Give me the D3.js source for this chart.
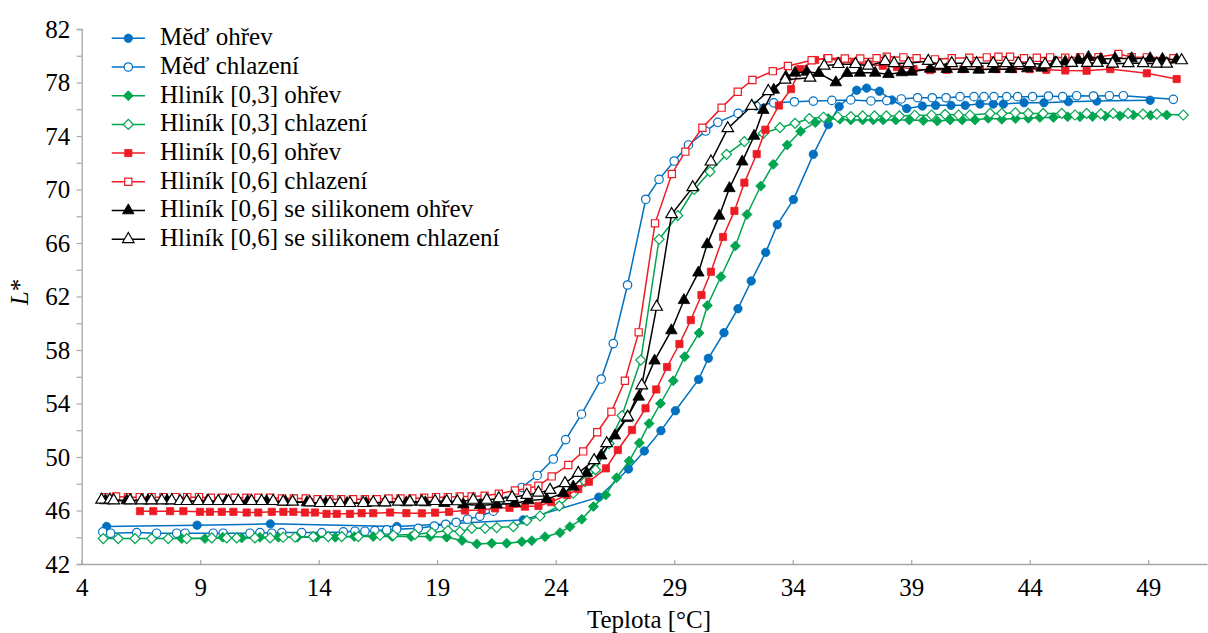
<!DOCTYPE html>
<html>
<head>
<meta charset="utf-8">
<script src="https://cdn.jsdelivr.net/npm/d3@7"></script>
<style>
  body { margin: 0; background: #fff; }
  svg { display: block; }
  text { font-family: "Liberation Serif", "Times New Roman", serif; fill: #000; }
</style>
</head>
<body>
<svg id="chart" width="1208" height="633"></svg>
<script>
// Temperature [°C] vs. lightness L* for each sample, heating (ohřev) and cooling (chlazení)
const medOhrev = [[5.05,44.8],[8.87,44.9],[11.96,45.0],[17.3,44.8],[22.63,45.3],[25.82,47.0],[27.07,49.1],[27.74,50.45],[28.44,51.97],[29.05,53.46],[30.03,55.8],[30.44,57.38],[31.1,59.29],[31.69,61.09],[32.25,63.16],[32.86,65.3],[33.35,67.37],[34.03,69.25],[34.87,72.63],[35.5,74.85],[35.96,76.2],[36.7,77.42],[37.12,77.58],[37.66,77.35],[38.18,76.69],[38.81,76.05],[39.47,76.24],[40.03,76.29],[40.68,76.29],[41.28,76.29],[41.9,76.39],[42.46,76.39],[42.89,76.39],[43.76,76.49],[44.6,76.49],[45.63,76.57],[46.83,76.62],[49.08,76.67]];

const medChlazeni = [[4.89,44.4],[5.22,44.3],[6.32,44.35],[7.16,44.3],[8.01,44.3],[8.36,44.3],[9.55,44.3],[9.97,44.3],[11.1,44.3],[11.52,44.35],[12.02,44.3],[12.44,44.35],[13.28,44.35],[14.13,44.35],[15.04,44.4],[15.53,44.45],[15.95,44.45],[16.37,44.5],[16.87,44.55],[17.29,44.6],[18.2,44.67],[18.88,44.84],[19.36,44.97],[19.8,45.12],[20.28,45.35],[20.8,45.57],[21.37,45.95],[21.95,46.75],[22.57,47.72],[23.22,48.62],[23.9,49.85],[24.42,51.3],[25.09,53.2],[25.92,55.83],[26.43,58.48],[27.03,62.86],[27.8,69.27],[28.36,70.76],[29.0,72.13],[29.6,73.33],[30.33,74.37],[30.84,75.02],[31.7,75.69],[32.45,76.25],[33.2,76.48],[34.07,76.56],[34.87,76.61],[35.65,76.66],[36.45,76.7],[37.3,76.62],[37.97,76.65],[38.58,76.77],[39.27,76.86],[39.89,76.86],[40.47,76.86],[41.06,76.94],[41.65,76.94],[42.07,76.94],[42.49,76.94],[43.03,76.94],[43.49,76.94],[44.12,76.94],[44.79,76.99],[45.39,76.94],[45.98,77.01],[46.69,76.99],[47.36,77.01],[47.95,77.01],[50.06,76.74]];

const hlinik03Ohrev = [[8.22,43.9],[9.2,43.9],[9.95,44.0],[10.75,43.95],[11.52,44.0],[12.3,44.0],[13.1,44.0],[13.9,44.0],[14.7,44.0],[15.5,44.05],[16.3,44.05],[17.1,44.05],[17.9,44.05],[18.7,44.05],[19.4,44.0],[20.05,43.75],[20.67,43.5],[21.3,43.55],[21.93,43.55],[22.57,43.67],[22.99,43.74],[23.55,44.04],[24.18,44.34],[24.6,44.79],[25.1,45.34],[25.59,46.29],[26.11,47.16],[26.57,48.45],[27.1,49.7],[27.53,51.05],[27.94,52.5],[28.42,54.0],[28.96,55.7],[29.44,57.5],[30.05,59.27],[30.4,61.33],[30.97,63.48],[31.58,65.78],[32.07,68.13],[32.65,70.26],[33.18,71.88],[33.77,73.33],[34.33,74.35],[34.95,75.0],[35.5,75.3],[35.99,75.25],[36.45,75.2],[36.95,75.2],[37.4,75.2],[37.82,75.2],[38.35,75.2],[38.92,75.2],[39.51,75.15],[40.1,75.12],[40.64,75.2],[41.15,75.2],[41.69,75.2],[42.25,75.32],[42.82,75.25],[43.4,75.3],[43.94,75.32],[44.43,75.39],[45.0,75.39],[45.6,75.44],[46.12,75.44],[46.65,75.45],[47.18,75.49],[47.8,75.5],[48.37,75.57],[49.1,75.55],[49.78,75.57]];

const hlinik03Chlazeni = [[4.91,43.9],[5.54,43.9],[6.25,43.9],[6.95,43.9],[7.65,43.9],[8.43,43.9],[9.49,43.95],[10.12,43.95],[10.54,43.95],[11.31,43.95],[11.95,43.95],[12.5,44.0],[13.0,44.0],[13.77,44.05],[14.4,44.05],[14.97,44.05],[15.67,44.05],[16.59,44.15],[17.15,44.15],[18.06,44.22],[18.77,44.34],[19.45,44.5],[19.96,44.42],[20.46,44.67],[21.02,44.67],[21.51,44.72],[22.21,44.79],[22.78,45.24],[23.34,45.59],[24.15,46.34],[24.74,47.29],[25.24,48.15],[25.68,49.05],[26.25,51.0],[26.8,53.1],[27.59,57.25],[28.36,66.28],[29.15,68.05],[29.84,70.0],[30.51,71.33],[31.21,72.63],[31.96,73.58],[32.76,74.2],[33.46,74.62],[34.1,74.95],[34.7,75.3],[35.3,75.4],[35.9,75.44],[36.45,75.45],[36.95,75.5],[37.45,75.5],[37.95,75.5],[38.5,75.5],[39.15,75.55],[39.86,75.57],[40.43,75.62],[41.0,75.57],[41.48,75.57],[42.33,75.69],[42.82,75.69],[43.39,75.74],[43.94,75.69],[44.57,75.69],[45.35,75.69],[45.91,75.57],[46.4,75.69],[47.0,75.65],[47.52,75.69],[48.15,75.69],[48.78,75.64],[49.36,75.64],[50.48,75.57]];

const hlinik06Ohrev = [[6.46,45.95],[7.02,45.95],[7.73,45.95],[8.29,45.95],[8.99,45.9],[9.41,45.9],[9.91,45.9],[10.4,45.9],[10.96,45.85],[11.45,45.85],[12.02,45.9],[12.51,45.9],[12.93,45.9],[13.42,45.85],[13.84,45.85],[14.33,45.75],[14.76,45.75],[15.32,45.75],[15.81,45.8],[16.3,45.8],[17.01,45.85],[17.7,45.8],[18.35,45.79],[18.91,45.84],[19.5,45.9],[20.17,46.0],[20.88,46.04],[21.44,46.16],[22.05,46.2],[22.7,46.29],[23.27,46.34],[23.8,46.63],[24.48,47.16],[24.95,47.6],[25.4,48.15],[26.12,49.15],[26.62,50.52],[27.22,52.02],[27.79,53.64],[28.24,55.05],[28.7,56.73],[29.22,58.45],[29.7,60.24],[30.15,62.11],[30.55,63.85],[31.06,66.45],[31.54,68.4],[31.96,70.51],[32.48,72.65],[32.85,74.47],[33.42,76.28],[33.93,77.51],[34.31,79.0],[34.94,79.68],[35.45,79.81],[36.0,79.6],[36.6,79.45],[37.2,79.35],[37.8,79.25],[38.4,79.15],[39.1,79.0],[39.8,78.93],[40.5,78.95],[41.2,79.0],[41.9,79.0],[42.6,79.0],[43.3,79.0],[44.0,79.0],[44.7,78.95],[45.5,78.9],[46.4,78.88],[47.4,79.0],[48.94,78.69],[50.2,78.26]];

const hlinik06Chlazeni = [[4.95,47.0],[5.45,47.05],[5.95,47.0],[6.45,47.0],[6.95,47.0],[7.45,47.0],[7.95,47.0],[8.45,47.0],[8.95,47.0],[9.45,46.95],[9.95,46.95],[10.45,46.95],[10.95,46.95],[11.45,46.95],[11.95,46.95],[12.45,46.9],[12.95,46.9],[13.45,46.9],[13.95,46.85],[14.45,46.85],[14.95,46.85],[15.45,46.85],[15.95,46.85],[16.45,46.85],[16.95,46.9],[17.45,46.9],[17.95,46.9],[18.45,46.95],[18.95,47.0],[19.45,47.0],[19.95,47.05],[20.45,47.05],[21.0,47.1],[21.6,47.25],[22.28,47.5],[22.8,47.65],[23.27,47.85],[23.83,48.55],[24.53,49.4],[25.16,50.42],[25.75,51.85],[26.35,53.39],[26.92,55.7],[27.5,59.32],[28.19,67.47],[28.9,71.16],[29.47,72.83],[30.19,74.62],[31.0,76.12],[31.68,77.31],[32.3,78.19],[33.16,78.85],[33.8,79.23],[34.8,79.66],[35.5,79.81],[36.2,79.8],[36.85,79.8],[37.54,79.81],[37.97,79.93],[38.67,79.88],[39.23,79.81],[40.0,79.73],[40.71,79.81],[41.45,79.85],[42.19,79.88],[42.68,79.93],[43.17,79.93],[43.76,79.81],[44.3,79.85],[44.86,79.88],[45.5,79.85],[46.12,79.88],[46.9,79.9],[47.74,80.13],[48.3,79.9],[48.94,79.88],[50.06,79.81]];

const silikonOhrev = [[5.0,46.75],[5.9,46.75],[6.8,46.75],[7.6,46.75],[8.45,46.7],[9.3,46.7],[10.1,46.7],[11.0,46.7],[11.8,46.7],[12.6,46.65],[13.5,46.6],[14.3,46.55],[15.2,46.55],[16.0,46.55],[16.8,46.6],[17.7,46.6],[18.5,46.6],[19.3,46.55],[20.1,46.45],[20.81,46.4],[21.51,46.45],[22.28,46.55],[22.85,46.75],[23.62,46.85],[24.32,47.29],[24.74,47.78],[25.31,48.8],[25.92,50.1],[26.5,51.6],[27.0,52.9],[27.5,54.5],[28.17,57.2],[28.88,59.46],[29.41,61.72],[30.02,63.78],[30.39,65.9],[30.9,68.03],[31.33,70.09],[31.87,72.08],[32.37,74.0],[32.76,75.94],[33.2,77.45],[33.71,78.43],[34.1,78.72],[34.59,78.8],[35.1,78.7],[35.82,78.0],[36.3,78.7],[36.84,78.72],[37.48,78.72],[38.04,78.62],[38.6,78.75],[39.02,78.8],[39.8,79.02],[40.5,79.0],[41.2,79.0],[41.85,78.95],[42.5,79.0],[43.2,79.0],[43.9,79.05],[44.5,79.1],[45.07,79.5],[45.5,79.55],[46.05,79.7],[46.48,79.9],[47.0,79.75],[47.6,79.8],[48.3,79.8],[49.08,79.8],[49.6,79.75],[50.2,79.7]];

const silikonChlazeni = [[4.84,46.8],[5.19,46.8],[5.35,46.75],[6.04,46.75],[6.53,46.75],[6.95,46.75],[7.38,46.75],[7.8,46.75],[8.15,46.7],[8.43,46.7],[8.92,46.7],[9.34,46.7],[9.76,46.7],[10.19,46.7],[10.61,46.7],[11.17,46.7],[11.59,46.7],[12.08,46.7],[12.5,46.65],[12.9,46.65],[13.63,46.6],[14.06,46.55],[14.48,46.55],[14.9,46.55],[15.32,46.55],[15.88,46.55],[16.3,46.6],[16.8,46.6],[17.36,46.65],[17.85,46.65],[18.35,46.65],[18.91,46.7],[19.4,46.7],[19.85,46.68],[20.52,46.79],[21.09,46.79],[21.6,46.9],[22.16,46.99],[22.78,47.16],[23.27,47.33],[23.76,47.53],[24.39,48.03],[24.95,48.8],[25.62,49.75],[26.15,51.02],[27.04,53.0],[27.63,55.35],[28.26,61.22],[28.89,68.15],[29.78,70.16],[30.55,72.08],[31.26,74.57],[32.27,76.24],[32.97,77.35],[33.68,78.2],[34.73,78.35],[35.33,79.25],[35.92,79.37],[36.65,79.37],[37.19,79.25],[37.9,79.58],[38.28,79.43],[38.88,79.43],[39.72,79.6],[40.21,79.3],[40.71,79.43],[41.34,79.43],[41.76,79.43],[42.46,79.43],[43.0,79.43],[43.52,79.43],[44.01,79.43],[44.65,79.35],[45.14,79.43],[45.77,79.45],[46.43,79.45],[46.85,79.45],[47.5,79.4],[48.16,79.43],[48.79,79.43],[49.36,79.4],[49.78,79.4],[50.41,79.65]];

const seriesNames = [
  "Měď ohřev", "Měď chlazení",
  "Hliník [0,3] ohřev", "Hliník [0,3] chlazení",
  "Hliník [0,6] ohřev", "Hliník [0,6] chlazení",
  "Hliník [0,6] se silikonem ohřev", "Hliník [0,6] se silikonem chlazení"
];
const seriesData = [medOhrev, medChlazeni, hlinik03Ohrev, hlinik03Chlazeni,
                    hlinik06Ohrev, hlinik06Chlazeni, silikonOhrev, silikonChlazeni];
const seriesColors = ["#0070c0", "#0070c0", "#00a550", "#00a550",
                      "#ed1c24", "#ed1c24", "#000000", "#000000"];
const seriesShapes = ["circle", "circle", "diamond", "diamond", "square", "square", "triangle", "triangle"];
const seriesFilled = [true, false, true, false, true, false, true, false];

const xTicks = [4, 9, 14, 19, 24, 29, 34, 39, 44, 49];
const yTicks = [42, 44, 46, 48, 50, 52, 54, 56, 58, 60, 62, 64, 66, 68, 70, 72, 74, 76, 78, 80, 82];
const yLabelled = [42, 46, 50, 54, 58, 62, 66, 70, 74, 78, 82];

const svg = d3.select("#chart");
const axisColor = "#a6a6a6";

const x = d3.scaleLinear().domain([4, 51.48]).range([81.7, 1207]);
const y = d3.scaleLinear().domain([42, 82]).range([564, 29]);

// symbol generators
const symbolPath = {
  circle: d3.symbol().type(d3.symbolCircle).size(56)(),
  square: d3.symbol().type(d3.symbolSquare).size(52)(),
  diamond: d3.symbol().type(d3.symbolSquare).size(50)(),
  triangle: d3.symbol().type(d3.symbolTriangle).size(58)()
};
function drawMarker(sel, i) {
  sel.append("path")
    .attr("d", symbolPath[seriesShapes[i]])
    .attr("transform", seriesShapes[i] === "diamond" ? "rotate(45)" : null)
    .attr("fill", seriesFilled[i] ? seriesColors[i] : "#fff")
    .attr("stroke", seriesColors[i])
    .attr("stroke-width", seriesFilled[i] ? 0.8 : 1.2);
}

// axes
const xAxis = d3.axisBottom(x).tickValues(xTicks).tickSizeInner(-4).tickSizeOuter(0).tickPadding(14);
const gx = svg.append("g").attr("transform", `translate(0,${y(42)})`).call(xAxis);
const yAxis = d3.axisLeft(y).tickValues(yTicks).tickSize(5).tickPadding(6.5)
  .tickFormat(d => yLabelled.includes(d) ? d : "");
const gy = svg.append("g").attr("transform", `translate(${x(4)},0)`).call(yAxis);
[gx, gy].forEach(g => {
  g.select(".domain").attr("stroke", axisColor).attr("stroke-width", 1.3);
  g.selectAll(".tick line").attr("stroke", axisColor).attr("stroke-width", 1.2);
  g.selectAll(".tick text").attr("font-size", 25).attr("fill", "#000")
    .attr("font-family", "Liberation Serif, Times New Roman, serif");
});

// series: line then markers
const line = d3.line().x(d => x(d[0])).y(d => y(d[1]));
seriesData.forEach((data, i) => {
  const g = svg.append("g");
  g.append("path").datum(data)
    .attr("d", line)
    .attr("fill", "none")
    .attr("stroke", seriesColors[i])
    .attr("stroke-width", 1.5);
  g.selectAll("g.m").data(data).join("g")
    .attr("class", "m")
    .attr("transform", d => `translate(${x(d[0])},${y(d[1])})`)
    .each(function () { drawMarker(d3.select(this), i); });
});

// legend
const legend = svg.append("g");
seriesNames.forEach((name, i) => {
  const ly = 38.3 + i * 28.7;
  const row = legend.append("g");
  row.append("line").attr("x1", 111.7).attr("x2", 145).attr("y1", ly).attr("y2", ly)
    .attr("stroke", seriesColors[i]).attr("stroke-width", 1.5);
  const m = row.append("g").attr("transform", `translate(128.3,${ly})`);
  drawMarker(m, i);
  row.append("text").attr("x", 160).attr("y", ly + 6.8).attr("font-size", 25).text(name);
});

// axis titles
svg.append("text").attr("x", 649).attr("y", 628).attr("text-anchor", "middle")
  .attr("font-size", 25).text("Teplota [°C]");
const yt = svg.append("text").attr("transform", "translate(28,292) rotate(-90)")
  .attr("text-anchor", "middle").attr("font-size", 25);
yt.append("tspan").attr("font-style", "italic").text("L");
yt.append("tspan").text("*");
</script>
</body>
</html>
